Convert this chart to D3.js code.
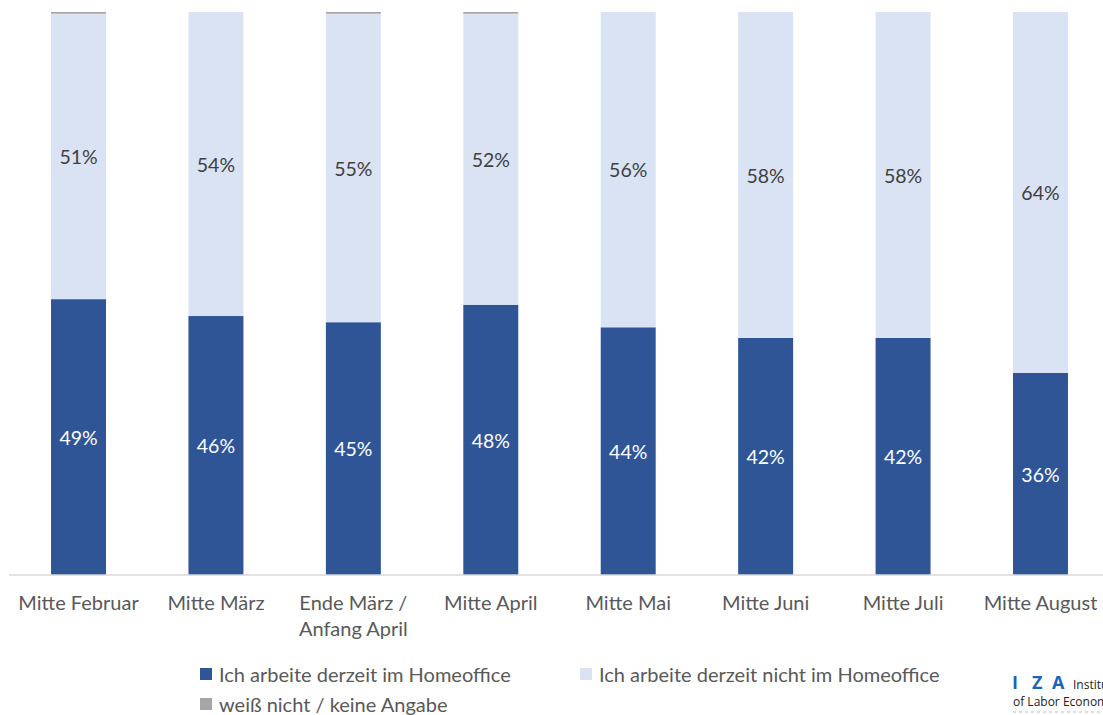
<!DOCTYPE html>
<html><head><meta charset="utf-8">
<script src="https://cdn.jsdelivr.net/npm/d3@7"></script>
<style>html,body{margin:0;padding:0;background:#fff;}svg{display:block;}</style>
</head><body>
<svg id="c" width="1103" height="715"></svg>
<script>
const categories = ["Mitte Februar","Mitte März","Ende März /\nAnfang April","Mitte April","Mitte Mai","Mitte Juni","Mitte Juli","Mitte August"];
const homeoffice = [49.0, 46.0, 44.9, 48.0, 44.0, 42.1, 42.1, 35.9];
const nichtHomeoffice = [50.7, 54.0, 54.8, 51.7, 56.0, 57.9, 57.9, 64.1];
const weissNicht = [0.3, 0.0, 0.3, 0.3, 0.0, 0.0, 0.0, 0.0];
const seriesNames = ["Ich arbeite derzeit im Homeoffice","Ich arbeite derzeit nicht im Homeoffice","weiß nicht / keine Angabe"];
const colors = ["#2F5597","#DAE3F3","#A5A5A5"];
const labelColors = ["#ffffff","#404040",null];

const font = "Lato, 'Open Sans', sans-serif";
const svg = d3.select("#c");
const x = d3.scaleBand().domain(categories).range([9.8, 1109.2]).paddingInner(0.6).paddingOuter(0.3);
const y = d3.scaleLinear().domain([0,100]).range([575,12]);

const rows = categories.map((c,i)=>({cat:c, v:[homeoffice[i], nichtHomeoffice[i], weissNicht[i]]}));
const stack = d3.stack().keys([0,1,2]).value((d,k)=>d.v[k]);
const layers = stack(rows);

const g = svg.append("g");
layers.forEach((layer,k)=>{
  g.selectAll(null).data(layer).enter().append("rect")
    .attr("x", d=>x(d.data.cat))
    .attr("width", x.bandwidth())
    .attr("y", d=>y(d[1]))
    .attr("height", d=>Math.max(0, y(d[0])-y(d[1])))
    .attr("fill", colors[k]);
  if (labelColors[k]) {
    g.selectAll(null).data(layer).enter().append("text")
      .attr("x", d=>x(d.data.cat)+x.bandwidth()/2)
      .attr("y", d=>(y(d[0])+y(d[1]))/2 + 1)
      .attr("dy","0.35em")
      .attr("text-anchor","middle")
      .attr("fill", labelColors[k])
      .style("font-family", font).style("font-size","19.5px")
      .text(d=>Math.round(d.data.v[k])+"%");
  }
});

// axis
const axis = d3.axisBottom(x).tickSize(0).tickPadding(0);
const ag = svg.append("g").attr("transform","translate(0,575)").call(axis);
ag.select(".domain").attr("stroke","#D9D9D9").attr("stroke-width",1.5).attr("d","M9,0H1103");
ag.selectAll(".tick text").each(function(d){
  const t = d3.select(this);
  t.text(null).attr("y",0).attr("dy",null)
   .style("font-family",font).style("font-size","20px").attr("fill","#595959");
  d.split("\n").forEach((line,i)=>{
    t.append("tspan").attr("x",0).attr("y",35+i*26).text(line);
  });
});

// legend
const legendPos = [[200,674],[580,674],[200,704]];
seriesNames.forEach((n,k)=>{
  const [lx,ly] = legendPos[k];
  svg.append("rect").attr("x",lx).attr("y",ly-6).attr("width",12).attr("height",12).attr("fill",colors[k]);
  svg.append("text").attr("x",lx+19).attr("y",ly+1).attr("dy","0.35em")
    .style("font-family",font).style("font-size","20px").attr("fill","#595959").text(n);
});

// IZA logo (cut off at the right edge, as in the reference)
const izaLetters = ["I","Z","A"];
const izaX = [1012, 1032, 1052];
izaLetters.forEach((l,i)=>{
  svg.append("text").attr("x",izaX[i]).attr("y",689).style("font-family","'Open Sans', sans-serif")
    .style("font-size","18px").style("font-weight","bold").attr("fill","#1F63B5").text(l);
});
svg.append("text").attr("x",1073).attr("y",689).style("font-family","'Open Sans', sans-serif")
  .style("font-size","12px").attr("fill","#222").text("Institu");
svg.append("text").attr("x",1013).attr("y",706).style("font-family","'Open Sans', sans-serif")
  .style("font-size","12px").attr("fill","#222").text("of Labor Econom");
svg.append("line").attr("x1",1013).attr("x2",1103).attr("y1",712).attr("y2",712)
  .attr("stroke","#bbb").attr("stroke-width",1).attr("stroke-dasharray","3,3");
</script>
</body></html>
